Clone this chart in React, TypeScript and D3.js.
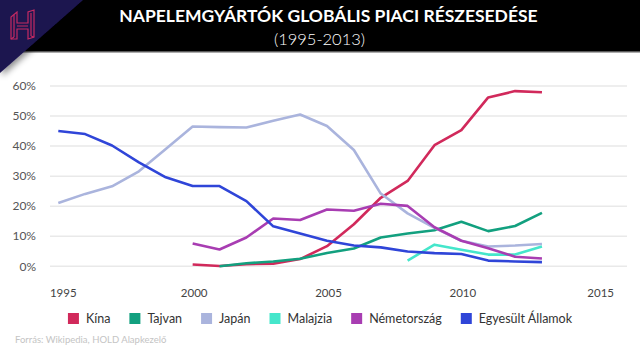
import React, { useEffect, useRef } from "react";
import * as d3 from "d3";

const years = d3.range(1995, 2014);
const seriesNames = ["Kína", "Tajvan", "Japán", "Malajzia", "Németország", "Egyesült Államok"];
const seriesColors = ["#d1295b", "#12a07f", "#aab4dd", "#45e6cb", "#a83db2", "#2f45d8"];
const startYears = [2000, 2001, 1995, 2008, 2000, 1995];
const kina = [0.6, 0.1, 0.7, 0.9, 2.4, 6.7, 14, 22.8, 28.4, 40.3, 45.3, 56.2, 58.3, 57.9];
const tajvan = [0, 1.0, 1.6, 2.5, 4.4, 5.9, 9.6, 10.9, 12, 14.8, 11.7, 13.4, 17.8];
const japan = [21.1, 24.1, 26.6, 31.6, 39, 46.5, 46.3, 46.2, 48.4, 50.5, 46.7, 38.7, 24.2, 17.6, 12.8, 8.5, 6.6, 6.9, 7.4];
const malajzia = [1.9, 7.2, 5.5, 3.9, 3.9, 6.6];
const nemet = [7.6, 5.6, 9.6, 15.9, 15.4, 18.9, 18.5, 20.8, 20.1, 13, 8.5, 6, 3.2, 2.6];
const usa = [45, 44, 40.2, 34.6, 29.6, 26.7, 26.7, 21.7, 13.3, 10.9, 8.5, 6.9, 6.3, 4.9, 4.4, 4.1, 1.9, 1.6, 1.4];
const seriesValues = [kina, tajvan, japan, malajzia, nemet, usa];
const yTicks = [0, 10, 20, 30, 40, 50, 60];
const xTicks = [1995, 2000, 2005, 2010, 2015];
const title = "NAPELEMGYÁRTÓK GLOBÁLIS PIACI RÉSZESEDÉSE";
const subtitle = "(1995-2013)";
const source = "Forrás: Wikipedia, HOLD Alapkezelő";

const W = 640;
const H = 353;

export default function App() {
  const ref = useRef<SVGSVGElement>(null);

  useEffect(() => {
    const svg = d3.select(ref.current);
    svg.selectAll("*").remove();
    const font = "Lato, 'Open Sans', sans-serif";

    const x = d3.scaleLinear().domain([1995, 2015]).range([58.3, 595.7]);
    const y = d3.scaleLinear().domain([0, 60]).range([266.3, 86]);

    const defs = svg.append("defs");
    const f = defs.append("filter").attr("id", "sh").attr("x", "-50%").attr("y", "-50%").attr("width", "200%").attr("height", "200%");
    f.append("feDropShadow").attr("dx", 2).attr("dy", 3).attr("stdDeviation", 3).attr("flood-color", "#000").attr("flood-opacity", 0.45);

    svg.append("rect").attr("width", W).attr("height", H).attr("fill", "#fff");

    // banner
    svg.append("rect").attr("x", 0).attr("y", 0).attr("width", W).attr("height", 51).attr("fill", "#000");
    svg.append("rect").attr("x", 0).attr("y", 51).attr("width", W).attr("height", 1.5).attr("fill", "#5a5a5a");
    svg.append("path").attr("d", "M0,0 L83,0 L0,73 Z").attr("fill", "#1d1550").attr("filter", "url(#sh)");

    // logo H
    const g = svg.append("g").attr("transform", "translate(11,12)").attr("fill", "none").attr("stroke", "#c42a63").attr("stroke-width", 1.2);
    g.append("path").attr("d", "M0,5 L6,0 L6,11 L17,11 L17,0 L23,-2 L23,25 L17,27 L17,17 L6,17 L6,27 L0,27 Z");
    g.append("path").attr("d", "M3,3 L3,25 M20,1 L20,24 M6,14 L17,14 M0,27 L3,25 M23,25 L20,24");

    svg.append("text").attr("x", 328.5).attr("y", 22).attr("text-anchor", "middle").attr("fill", "#fff")
      .attr("font-family", font).attr("font-weight", 700).attr("font-size", 17.5).text(title);
    svg.append("text").attr("x", 319.5).attr("y", 45).attr("text-anchor", "middle").attr("fill", "#fff")
      .attr("font-family", font).attr("font-weight", 300).attr("font-size", 16.5).text(subtitle);

    // gridlines
    svg.append("g").selectAll("line").data(yTicks).join("line")
      .attr("x1", 50).attr("x2", 627).attr("y1", (d) => y(d)).attr("y2", (d) => y(d))
      .attr("stroke", "#e9e9e9").attr("stroke-width", 1.5);
    svg.append("g").selectAll("text").data(yTicks).join("text")
      .attr("x", 36).attr("y", (d) => y(d)).attr("dy", "0.35em").attr("text-anchor", "end")
      .attr("font-family", font).attr("font-size", 12).attr("fill", "#555").text((d) => d + "%");
    svg.append("g").selectAll("text").data(xTicks).join("text")
      .attr("x", (d) => x(d) + (d === 1995 || d === 2015 ? 5 : 1.5)).attr("y", 293).attr("dy", "0.35em").attr("text-anchor", "middle")
      .attr("font-family", font).attr("font-size", 11.5).attr("fill", "#444").text((d) => String(d));

    // lines
    const line = d3.line<[number, number]>().x((d) => x(d[0])).y((d) => y(d[1]));
    seriesValues.forEach((vals, i) => {
      const pts: [number, number][] = vals.map((v, j) => [startYears[i] + j, v]);
      svg.append("path").datum(pts).attr("d", line).attr("fill", "none")
        .attr("stroke", seriesColors[i]).attr("stroke-width", 2.6).attr("stroke-linejoin", "round");
    });

    // legend
    const lg = svg.append("g");
    let cx = 0;
    seriesNames.forEach((name, i) => {
      const item = lg.append("g").attr("transform", `translate(${cx},0)`);
      item.append("rect").attr("x", 0).attr("y", 313).attr("width", 11).attr("height", 11).attr("fill", seriesColors[i]);
      const t = item.append("text").attr("x", 18).attr("y", 319).attr("dy", "0.35em")
        .attr("font-family", font).attr("font-size", 12.5).attr("fill", "#333").text(name);
      const w = (t.node() as SVGTextElement).getComputedTextLength();
      cx += 18 + w + 19;
    });
    const total = cx - 19;
    lg.attr("transform", `translate(${320 - total / 2},0)`);

    svg.append("text").attr("x", 15).attr("y", 340).attr("dy", "0.35em")
      .attr("font-family", font).attr("font-size", 9.5).attr("fill", "#c4c4c4").text(source);
  }, []);

  return (
    <svg ref={ref} width={W} height={H} style={{ position: "absolute", left: 0, top: 0 }} />
  );
}
